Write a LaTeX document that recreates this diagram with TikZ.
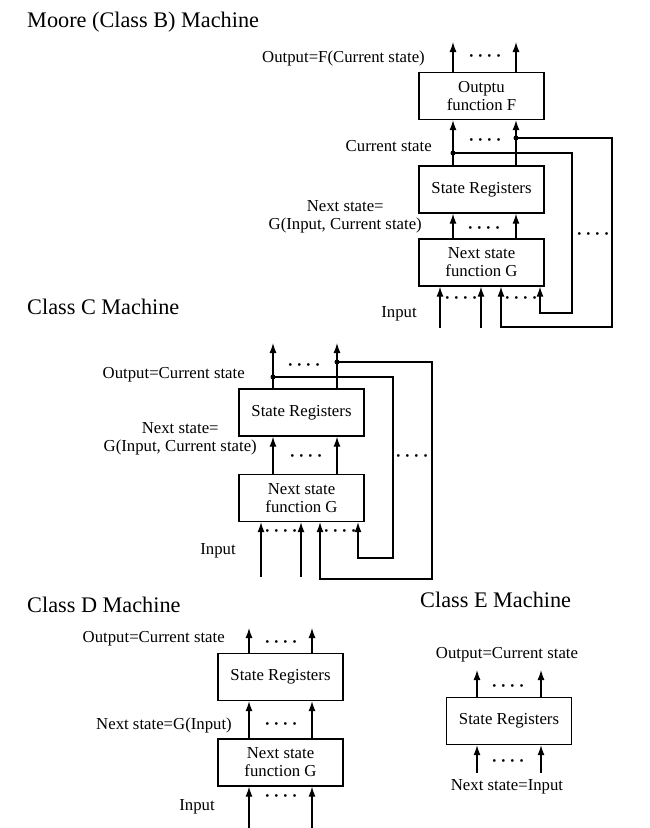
\documentclass[tikz,border=0pt]{standalone}
\usepackage{fontspec}
\setmainfont{Liberation Serif}
\usetikzlibrary{arrows.meta}

\newcommand{\dotrow}{·\hspace{3pt}·\hspace{3pt}·\hspace{3pt}·}

\begin{document}
\begin{tikzpicture}[x=0.03cm, y=-0.03cm,
  box/.style={draw, line width=1.1pt, minimum width=3.75cm, minimum height=1.41cm,
    inner sep=0pt, align=center, font=\fontsize{14.3}{15.5}\selectfont},
  lab/.style={font=\fontsize{14.3}{15.5}\selectfont, inner sep=0pt, align=center},
  ttl/.style={font=\fontsize{19}{22}\selectfont, anchor=west, inner sep=0pt},
  arr/.style={line width=1.1pt, -{Latex[length=3mm, width=2.1mm]}},
  dts/.style={font=\fontsize{14.3}{15.5}\selectfont\bfseries, inner sep=0pt},
  jdot/.style={circle, fill, inner sep=0pt, minimum size=1.5mm},
]
  \useasboundingbox (0,0) rectangle (650,828);

  % Moore (Class B) machine
  \node[ttl] (tB) at (27,22) {Moore (Class B) Machine};
  \node[box] (fB) at (481.5,96) {Outptu\\function F};
  \node[box] (srB) at (481.5,189.5) {State Registers};
  \node[box] (gB) at (481.5,262.5) {Next state\\function G};
  \coordinate (oB1) at (453,42);  \coordinate (oB2) at (516,42);
  \coordinate (iB1) at (440,328); \coordinate (iB2) at (481,328);
  \coordinate (rB1) at (540,0);   \coordinate (rB2) at (501,0);
  \coordinate (kB1) at (572,313); \coordinate (kB2) at (612,327);
  \foreach \c in {oB1,oB2} {
    \draw[arr] (fB.north -| \c) -- (\c);
    \draw[arr] (srB.north -| \c) -- (fB.south -| \c);
    \draw[arr] (gB.north -| \c) -- (srB.south -| \c);
  }
  \foreach \c in {iB1,iB2} {
    \draw[arr] (\c) -- (gB.south -| \c);
  }
  \node[jdot] (jB1) at (453,153) {};
  \node[jdot] (jB2) at (516,138) {};
  \draw[arr] (jB1.center) -| (kB1) -| (gB.south -| rB1);
  \draw[arr] (jB2.center) -| (kB2) -| (gB.south -| rB2);
  \node[dts] at (485,58) {\dotrow};
  \node[dts] at (485,142) {\dotrow};
  \node[dts] at (484,230) {\dotrow};
  \node[dts] at (461,300) {\dotrow};
  \node[dts] at (521,300) {\dotrow};
  \node[dts] at (593,236) {\dotrow};
  \node[lab, anchor=east] (oLB) at (425,58) {Output=F(Current state)};
  \node[lab, anchor=east] (cLB) at (432,146) {Current state};
  \node[lab, anchor=east] (nLB) at (422,217) {Next state=\\G(Input, Current state)};
  \node[lab] (inB) at (399,314) {Input};

  % Class C machine
  \node[ttl] (tC) at (27,307) {Class C Machine};
  \node[box] (srC) at (301.5,412.5) {State Registers};
  \node[box] (gC) at (301.5,498) {Next state\\function G};
  \coordinate (oC1) at (273,343); \coordinate (oC2) at (337,343);
  \coordinate (iC1) at (261,577); \coordinate (iC2) at (301,577);
  \coordinate (rC1) at (358,0);   \coordinate (rC2) at (320,0);
  \coordinate (kC1) at (393,558); \coordinate (kC2) at (432,579);
  \foreach \c in {oC1,oC2} {
    \draw[arr] (srC.north -| \c) -- (\c);
    \draw[arr] (gC.north -| \c) -- (srC.south -| \c);
  }
  \foreach \c in {iC1,iC2} {
    \draw[arr] (\c) -- (gC.south -| \c);
  }
  \node[jdot] (jC1) at (273,377) {};
  \node[jdot] (jC2) at (337,362) {};
  \draw[arr] (jC1.center) -| (kC1) -| (gC.south -| rC1);
  \draw[arr] (jC2.center) -| (kC2) -| (gC.south -| rC2);
  \node[dts] at (304,367) {\dotrow};
  \node[dts] at (306,458) {\dotrow};
  \node[dts] at (281,533) {\dotrow};
  \node[dts] at (340,533) {\dotrow};
  \node[dts] at (412,458) {\dotrow};
  \node[lab, anchor=east] (oLC) at (245,375) {Output=Current state};
  \node[lab, anchor=east] (nLC) at (257,439) {Next state=\\G(Input, Current state)};
  \node[lab] (inC) at (218,551) {Input};

  % Class D machine
  \node[ttl] (tD) at (27,605) {Class D Machine};
  \node[box] (srD) at (280.5,677) {State Registers};
  \node[box] (gD) at (280.5,762.5) {Next state\\function G};
  \coordinate (oD1) at (249,628); \coordinate (oD2) at (312,628);
  \coordinate (iD1) at (249,828); \coordinate (iD2) at (312,828);
  \foreach \c in {oD1,oD2} {
    \draw[arr] (srD.north -| \c) -- (\c);
    \draw[arr] (gD.north -| \c) -- (srD.south -| \c);
  }
  \foreach \c in {iD1,iD2} {
    \draw[arr] (\c) -- (gD.south -| \c);
  }
  \node[dts] at (281,644) {\dotrow};
  \node[dts] at (281,726) {\dotrow};
  \node[dts] at (281,798) {\dotrow};
  \node[lab, anchor=east] (oLD) at (225,639) {Output=Current state};
  \node[lab, anchor=east] (nLD) at (232,725) {Next state=G(Input)};
  \node[lab] (inD) at (197,807) {Input};

  % Class E machine
  \node[ttl] (tE) at (420,600) {Class E Machine};
  \node[box] (srE) at (509,721) {State Registers};
  \coordinate (oE1) at (477,670); \coordinate (oE2) at (541,670);
  \coordinate (iE1) at (477,773); \coordinate (iE2) at (541,773);
  \foreach \c in {oE1,oE2} {
    \draw[arr] (srE.north -| \c) -- (\c);
  }
  \foreach \c in {iE1,iE2} {
    \draw[arr] (\c) -- (srE.south -| \c);
  }
  \node[dts] at (508,688) {\dotrow};
  \node[dts] at (508,763) {\dotrow};
  \node[lab] (oLE) at (507,655) {Output=Current state};
  \node[lab] (nLE) at (507,787) {Next state=Input};

\end{tikzpicture}
\end{document}
